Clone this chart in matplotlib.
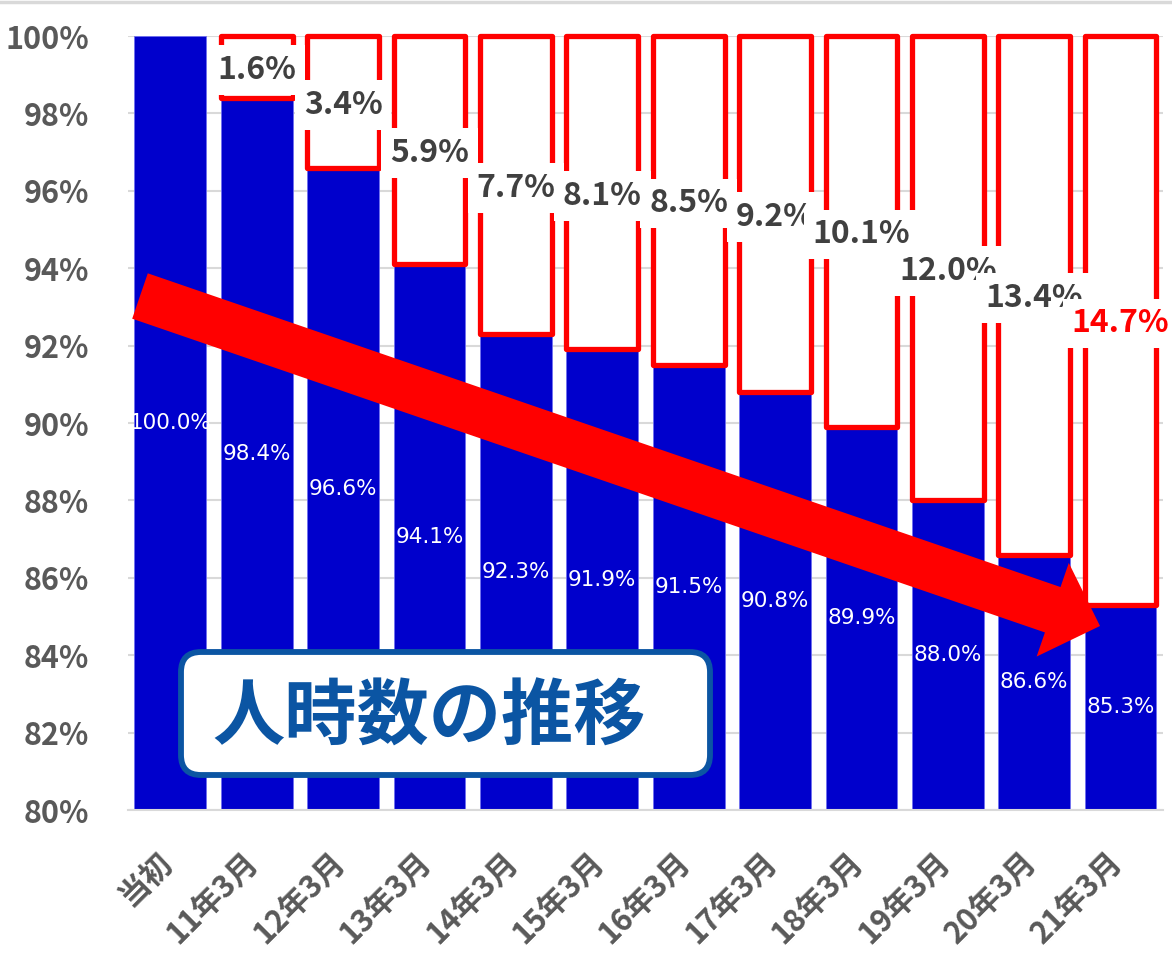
"""Man-hour ratio against the initial level, year by year. Blue bars are
the remaining share, red outlined boxes the cumulative reduction."""

import matplotlib

matplotlib.use("Agg")
import matplotlib.pyplot as plt
from matplotlib.lines import Line2D
from matplotlib.patches import FancyArrow, FancyBboxPatch
from matplotlib.transforms import ScaledTranslation

CATEGORIES = ["当初", "11年3月", "12年3月", "13年3月", "14年3月", "15年3月",
              "16年3月", "17年3月", "18年3月", "19年3月", "20年3月", "21年3月"]
RATIO = [100.0, 98.4, 96.6, 94.1, 92.3, 91.9, 91.5, 90.8, 89.9, 88.0, 86.6, 85.3]
REDUCTION = [0.0, 1.6, 3.4, 5.9, 7.7, 8.1, 8.5, 9.2, 10.1, 12.0, 13.4, 14.7]
YTICKS = [80, 82, 84, 86, 88, 90, 92, 94, 96, 98, 100]
TITLE = "人時数の推移"

BLUE = "#0000CC"
RED = "#FF0000"
NAVY = "#0B55A3"
GRID = "#D9D9D9"
TICK = "#595959"
LABEL = "#404040"
FONT = ["Noto Sans CJK JP", "DejaVu Sans"]


def draw_bars(ax, fig):
    x = range(len(CATEGORIES))
    base = ax.get_ylim()[0]
    ax.bar(x, [v - base for v in RATIO], bottom=base, width=0.83,
           color=BLUE, edgecolor="#7070F0", linewidth=0.6, zorder=2)
    # red boxes only where there is a reduction
    xs = [i for i in x if REDUCTION[i] > 0]
    ax.bar(xs, [REDUCTION[i] for i in xs], bottom=[RATIO[i] for i in xs],
           width=0.83, color="white", edgecolor=RED, linewidth=3.8,
           joinstyle="round", zorder=3, clip_on=False)

    for i in x:
        ax.text(i, (base + RATIO[i]) / 2, f"{RATIO[i]:.1f}%", ha="center",
                va="center", color="white", fontsize=15.5,
                family="DejaVu Sans", zorder=5)
    last = len(CATEGORIES) - 1
    down = ax.transData + ScaledTranslation(0, -0.03, fig.dpi_scale_trans)
    for i in xs:
        ax.text(i, RATIO[i] + REDUCTION[i] / 2, f"{REDUCTION[i]:.1f}%",
                ha="center", va="center", fontsize=23, fontweight="bold",
                color=RED if i == last else LABEL, zorder=6, transform=down,
                bbox=dict(boxstyle="square,pad=0.28", fc="white", ec="none"))


def decorate(fig):
    # big trend arrow and the title box, placed in inches (isotropic)
    tr = fig.dpi_scale_trans
    fig.add_artist(FancyArrow(1.40, 6.72, 9.60, -3.30, width=0.48,
                              head_width=0.99, head_length=0.50,
                              length_includes_head=True, color=RED,
                              lw=0, transform=tr, zorder=4))
    fig.add_artist(FancyBboxPatch((1.81, 1.93), 5.29, 1.23,
                                  boxstyle="round,pad=0,rounding_size=0.2",
                                  fc="white", ec=NAVY, lw=4.2,
                                  transform=tr, zorder=7))
    fig.text(4.29, 2.50, TITLE, transform=tr, ha="center", va="center",
             fontsize=52, fontweight="bold", color=NAVY, family=FONT,
             zorder=8)
    fig.add_artist(Line2D([0, 1], [0.998, 0.998], color=GRID, lw=2.5,
                          transform=fig.transFigure))


def main():
    plt.rcParams["font.family"] = FONT
    fig = plt.figure(figsize=(11.72, 9.68), dpi=100)
    ax = fig.add_axes([0.1092, 0.1632, 0.8831, 0.7996])
    ax.set_xlim(-0.49, len(CATEGORIES) - 0.51)
    ax.set_ylim(80, 100)

    ax.set_yticks(YTICKS, [f"{v}%" for v in YTICKS])
    ax.set_xticks(range(len(CATEGORIES)), CATEGORIES)
    ax.grid(axis="y", color=GRID, lw=1.5, zorder=0)
    ax.set_axisbelow(True)
    for s in ("top", "left", "right"):
        ax.spines[s].set_visible(False)
    ax.spines["bottom"].set_color(GRID)
    ax.spines["bottom"].set_linewidth(1.5)
    ax.tick_params(length=0, labelsize=22, labelcolor=TICK)
    ax.tick_params(axis="y", pad=28)
    ax.tick_params(axis="x", pad=34)
    for t in ax.get_yticklabels() + ax.get_xticklabels():
        t.set_fontweight("bold")
    shift = ScaledTranslation(-0.03, 0, fig.dpi_scale_trans)
    for t in ax.get_xticklabels():
        t.set_rotation(45)
        t.set_ha("right")
        t.set_va("center")
        t.set_rotation_mode("anchor")
        t.set_transform(t.get_transform() + shift)

    draw_bars(ax, fig)
    decorate(fig)
    fig.savefig("out.png", dpi=100)


if __name__ == "__main__":
    main()
